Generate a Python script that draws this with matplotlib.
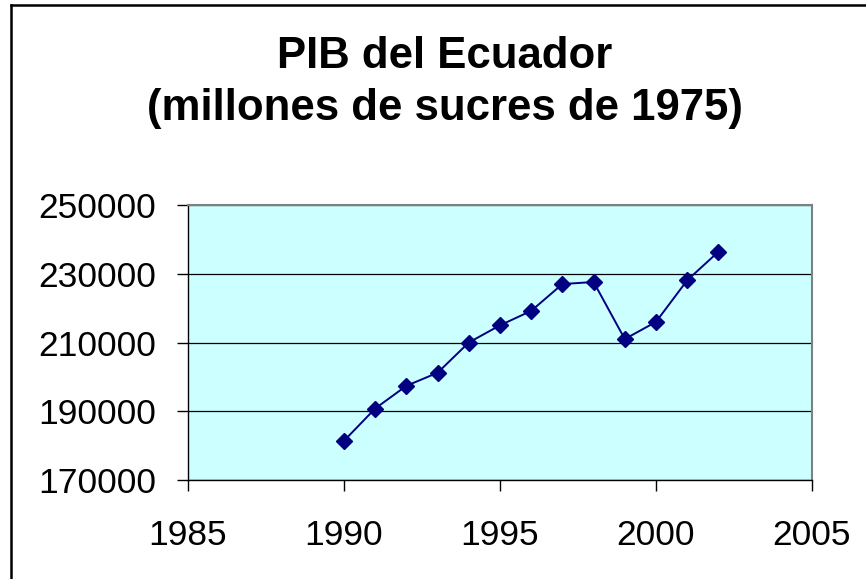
#!/usr/bin/env python
import numpy as np
import matplotlib
matplotlib.use('Agg')
import matplotlib.pyplot as plt
from matplotlib.lines import Line2D

"""
PIB del Ecuador, 1990-2002, millones de sucres de 1975
"""

years = [1990, 1991, 1992, 1993, 1994, 1995, 1996,
         1997, 1998, 1999, 2000, 2001, 2002]
pib = [181400, 190800, 197400, 201200, 210000, 215000, 219200,
       227000, 227600, 211000, 216000, 228100, 236400]

x_ticks = [1985, 1990, 1995, 2000, 2005]
y_ticks = [170000, 190000, 210000, 230000, 250000]
title_lines = ['PIB del Ecuador', '(millones de sucres de 1975)']


def main():
  plt.rcParams['font.family'] = ['Liberation Sans', 'DejaVu Sans']
  W, H = 866, 579
  fig = plt.figure(figsize=(W/100, H/100), dpi=100)
  fig.patch.set_facecolor('white')

  # chart frame (only top and left edges are in view)
  fig.add_artist(Line2D([11/W, 11/W], [0, 1 - 5/H], color='black', lw=1.8))
  fig.add_artist(Line2D([11/W, 1], [1 - 5/H, 1 - 5/H], color='black', lw=1.8))

  ax = fig.add_axes([188/W, 1 - 480/H, (812 - 188)/W, (480 - 205)/H])
  ax.set_facecolor('#CCFFFF')

  ax.plot(years, pib, color='#000080', lw=1.4, marker='D', markersize=8.5,
          markerfacecolor='#000080', markeredgecolor='#000080', zorder=3)

  ax.set_xlim(x_ticks[0], x_ticks[-1])
  ax.set_ylim(y_ticks[0], y_ticks[-1])
  ax.set_xticks(x_ticks)
  ax.set_yticks(y_ticks)
  ax.set_xticklabels([str(v) for v in x_ticks])
  ax.set_yticklabels([str(v) for v in y_ticks])

  ax.yaxis.grid(True, color='black', lw=0.9)
  ax.set_axisbelow(True)

  for side in ['left', 'bottom']:
    ax.spines[side].set_color('black')
    ax.spines[side].set_linewidth(1.0)
  for side in ['top', 'right']:
    ax.spines[side].set_color('#808080')
    ax.spines[side].set_linewidth(1.5)

  ax.tick_params(axis='both', direction='out', length=8, width=1.0,
                 labelsize=25.5, color='black')
  ax.tick_params(axis='y', pad=15)
  ax.tick_params(axis='x', pad=20)

  # title, one baseline per line
  for line, base in zip(title_lines, [68, 120]):
    fig.text(445/W, 1 - base/H, line, ha='center', va='baseline',
             fontsize=31.5, fontweight='bold')

  fig.savefig('out.png', dpi=100)
  plt.close(fig)


if __name__ == '__main__':
  main()
